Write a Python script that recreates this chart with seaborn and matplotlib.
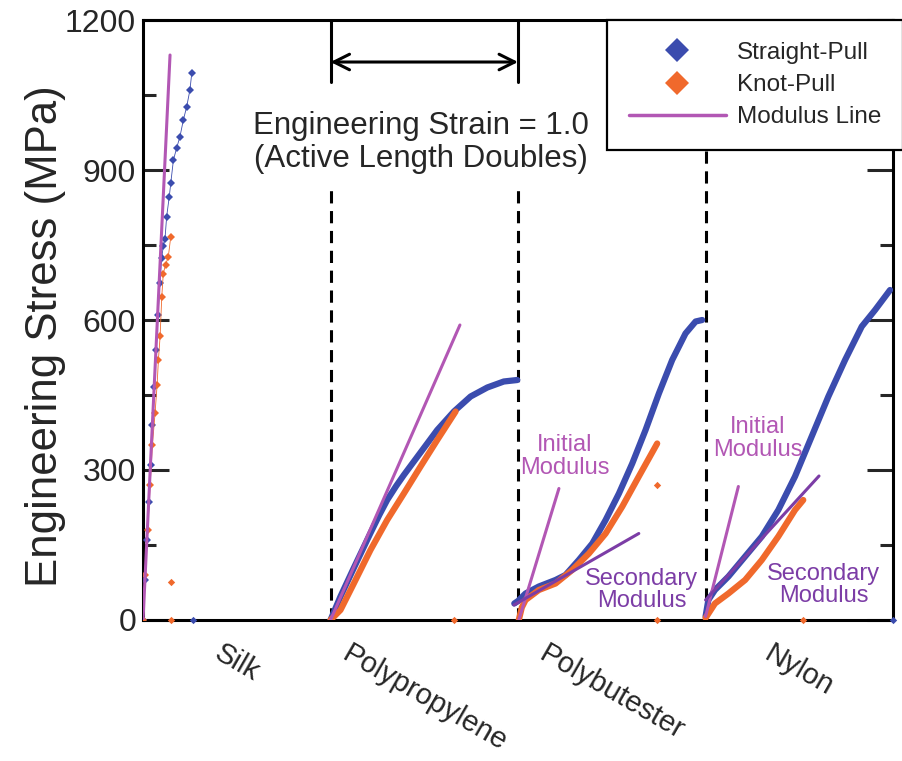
import matplotlib
matplotlib.use('Agg')
import matplotlib.pyplot as plt
import matplotlib.ticker as ticker
from matplotlib.lines import Line2D
import seaborn as sns
import pandas as pd

# colours
COLOUR_STRAIGHT = '#3B4CAE'
COLOUR_KNOT     = '#F0692C'
COLOUR_MODULUS  = '#B257B4'
COLOUR_SECOND   = '#7C3DA6'

materials = ['Silk', 'Polypropylene', 'Polybutester', 'Nylon']

# strain is local to each material, each panel is shifted by one strain unit
silk_straight_strain = [0, 0.01, 0.02, 0.03, 0.04, 0.05, 0.06, 0.07, 0.08, 0.09, 0.10, 0.108,
                        0.117, 0.126, 0.14, 0.148, 0.162, 0.18, 0.197, 0.215, 0.233, 0.25, 0.26]
silk_straight_stress = [0, 80, 160, 235, 310, 390, 465, 540, 610, 675, 725, 748,
                        762, 807, 847, 874, 920, 945, 967, 1000, 1027, 1060, 1094]
silk_knot_strain = [0, 0.012, 0.025, 0.038, 0.05, 0.064, 0.075, 0.082, 0.091, 0.10,
                    0.108, 0.12, 0.135, 0.148]
silk_knot_stress = [0, 90, 180, 270, 350, 413, 470, 520, 567, 647, 693, 710, 727, 767]

pp_straight_strain = [0, 0.053, 0.124, 0.213, 0.26, 0.302, 0.35, 0.391, 0.48, 0.569, 0.658,
                      0.747, 0.836, 0.924, 0.996]
pp_straight_stress = [0, 47, 104, 174, 210, 240, 268, 290, 335, 380, 417, 447, 465, 477, 480]
pp_knot_strain = [0, 0.053, 0.124, 0.213, 0.302, 0.391, 0.48, 0.569, 0.667]
pp_knot_stress = [0, 20, 73, 140, 200, 253, 307, 360, 417]

pb_straight_strain = [-0.02, 0.0, 0.04, 0.111, 0.2, 0.253, 0.324, 0.396, 0.467, 0.538,
                      0.609, 0.68, 0.751, 0.822, 0.893, 0.947, 0.982]
pb_straight_stress = [33, 38, 53, 67, 80, 90, 120, 153, 200, 253, 313, 380, 453, 520, 573, 597, 600]
pb_knot_strain = [0.004, 0.02, 0.04, 0.111, 0.2, 0.289, 0.378, 0.467, 0.556, 0.644, 0.742]
pb_knot_stress = [0, 25, 40, 60, 73, 100, 133, 173, 227, 287, 353]

ny_straight_strain = [0, 0.015, 0.05, 0.122, 0.211, 0.3, 0.388, 0.477, 0.566, 0.655,
                      0.744, 0.833, 0.904, 0.984]
ny_straight_stress = [7, 40, 60, 87, 127, 167, 220, 287, 367, 447, 520, 587, 620, 660]
ny_knot_strain = [0, 0.05, 0.122, 0.211, 0.3, 0.388, 0.477, 0.521]
ny_knot_stress = [4, 33, 53, 80, 120, 167, 220, 240]

# points left after the samples broke
broken_straight = {'Silk': [(0.267, 0)], 'Polypropylene': [], 'Polybutester': [], 'Nylon': [(0.997, 0)]}
broken_knot = {'Silk': [(0.149, 76), (0.149, 0)], 'Polypropylene': [(0.661, 0)],
               'Polybutester': [(0.742, 270), (0.742, 0)], 'Nylon': [(0.52, 0)]}

# modulus lines: (material, kind, strain pair, stress pair)
modulus_lines = [
    ('Silk',          'initial',   [0, 0.144],      [0, 1130]),
    ('Polypropylene', 'initial',   [0, 0.69],       [0, 590]),
    ('Polybutester',  'initial',   [0.004, 0.218],  [0, 263]),
    ('Polybutester',  'secondary', [-0.022, 0.644], [30, 173]),
    ('Nylon',         'initial',   [0, 0.175],      [7, 267]),
    ('Nylon',         'secondary', [0, 0.605],      [40, 288]),
]

# modulus labels, absolute strain
modulus_labels = [
    ('Initial\nModulus',   'initial',   2.25, 327),
    ('Secondary\nModulus', 'secondary', 2.66, 60),
    ('Initial\nModulus',   'initial',   3.28, 363),
    ('Secondary\nModulus', 'secondary', 3.63, 70),
]

curves = {
    'Silk':          (silk_straight_strain, silk_straight_stress, silk_knot_strain, silk_knot_stress),
    'Polypropylene': (pp_straight_strain, pp_straight_stress, pp_knot_strain, pp_knot_stress),
    'Polybutester':  (pb_straight_strain, pb_straight_stress, pb_knot_strain, pb_knot_stress),
    'Nylon':         (ny_straight_strain, ny_straight_stress, ny_knot_strain, ny_knot_stress),
}

sns.set_style('white')
plt.rcParams['font.family'] = ['Liberation Sans', 'DejaVu Sans']

fig = plt.figure(figsize=(9.03, 7.61), dpi=100)
ax = fig.add_axes([0.1584, 0.1853, 0.8306, 0.7884])

for i, name in enumerate(materials):
    s_str, s_val, k_str, k_val = curves[name]
    straight = pd.DataFrame({'strain': [v + i for v in s_str], 'stress': s_val})
    knot = pd.DataFrame({'strain': [v + i for v in k_str], 'stress': k_val})
    if name == 'Silk':
        sns.lineplot(data=straight, x='strain', y='stress', sort=False, ax=ax,
                     color=COLOUR_STRAIGHT, linewidth=0.6, marker='D', markersize=4,
                     markeredgewidth=0, zorder=3)
        sns.lineplot(data=knot, x='strain', y='stress', sort=False, ax=ax,
                     color=COLOUR_KNOT, linewidth=0.6, marker='D', markersize=4,
                     markeredgewidth=0, zorder=4)
    else:
        sns.lineplot(data=straight, x='strain', y='stress', sort=False, ax=ax,
                     color=COLOUR_STRAIGHT, linewidth=4.5, zorder=3)
        sns.lineplot(data=knot, x='strain', y='stress', sort=False, ax=ax,
                     color=COLOUR_KNOT, linewidth=4.5, zorder=4)
    for pts, col in ((broken_straight[name], COLOUR_STRAIGHT), (broken_knot[name], COLOUR_KNOT)):
        if pts:
            sns.scatterplot(x=[p[0] + i for p in pts], y=[p[1] for p in pts], ax=ax,
                            color=col, marker='D', s=14, linewidth=0, zorder=4, clip_on=False)

for name, kind, xs, ys in modulus_lines:
    i = materials.index(name)
    col = COLOUR_MODULUS if kind == 'initial' else COLOUR_SECOND
    sns.lineplot(x=[v + i for v in xs], y=ys, ax=ax, color=col, linewidth=2.2, zorder=5)

for text, kind, x, y in modulus_labels:
    col = COLOUR_MODULUS if kind == 'initial' else COLOUR_SECOND
    ax.text(x, y, text, color=col, fontsize=17, ha='center', va='center', linespacing=1.05)

# dashed separators and the strain = 1.0 marker
for x, top in ((1, 860), (2, 860), (3, 945)):
    ax.plot([x, x], [0, top], color='black', linewidth=2.2, dashes=(4, 2.5), zorder=2)
for x in (1, 2):
    ax.plot([x, x], [1076, 1200], color='black', linewidth=2.2, zorder=2)
ax.annotate('', xy=(2, 1116), xytext=(1, 1116),
            arrowprops=dict(arrowstyle='<->', lw=2.2, color='black',
                            mutation_scale=28, shrinkA=0, shrinkB=0))
ax.text(1.48, 955, 'Engineering Strain = 1.0\n(Active Length Doubles)',
        fontsize=22.5, ha='center', va='center', linespacing=1.1)

ax.set_xlim(0, 4)
ax.set_ylim(0, 1200)
ax.set_xticks([0.5, 1.5, 2.5, 3.5])
ax.set_xticklabels(materials, rotation=-30, ha='center', va='top', fontsize=21)
ax.tick_params(axis='x', length=0, pad=14)
ax.yaxis.set_major_locator(ticker.MultipleLocator(300))
ax.yaxis.set_minor_locator(ticker.MultipleLocator(150))
ax.tick_params(axis='y', which='major', direction='in', length=19, width=2.2,
               left=True, right=True, labelsize=23, pad=5)
ax.tick_params(axis='y', which='minor', direction='in', length=9.5, width=2.2,
               left=True, right=True)
ax.set_xlabel('')
ax.set_ylabel('Engineering Stress (MPa)', fontsize=31.5)
ax.yaxis.set_label_coords(-0.103, 0.473)
for sp in ax.spines.values():
    sp.set_linewidth(2.2)
    sp.set_color('black')

handles = [
    Line2D([], [], linestyle='none', marker='D', markersize=12, color=COLOUR_STRAIGHT, markeredgewidth=0),
    Line2D([], [], linestyle='none', marker='D', markersize=12, color=COLOUR_KNOT, markeredgewidth=0),
    Line2D([], [], color=COLOUR_MODULUS, linewidth=2.5),
]
leg = ax.legend(handles, ['Straight-Pull', 'Knot-Pull', 'Modulus Line'],
                loc='upper right', bbox_to_anchor=(1.0, 0.9737), bbox_transform=fig.transFigure,
                borderaxespad=0, fontsize=17.5, handlelength=4.0, handletextpad=0.45,
                labelspacing=0.42, borderpad=0.9, fancybox=False, framealpha=1,
                edgecolor='black')
leg.get_frame().set_linewidth(1.6)
leg.set_zorder(10)

fig.savefig('out.png', dpi=100)
plt.close()
